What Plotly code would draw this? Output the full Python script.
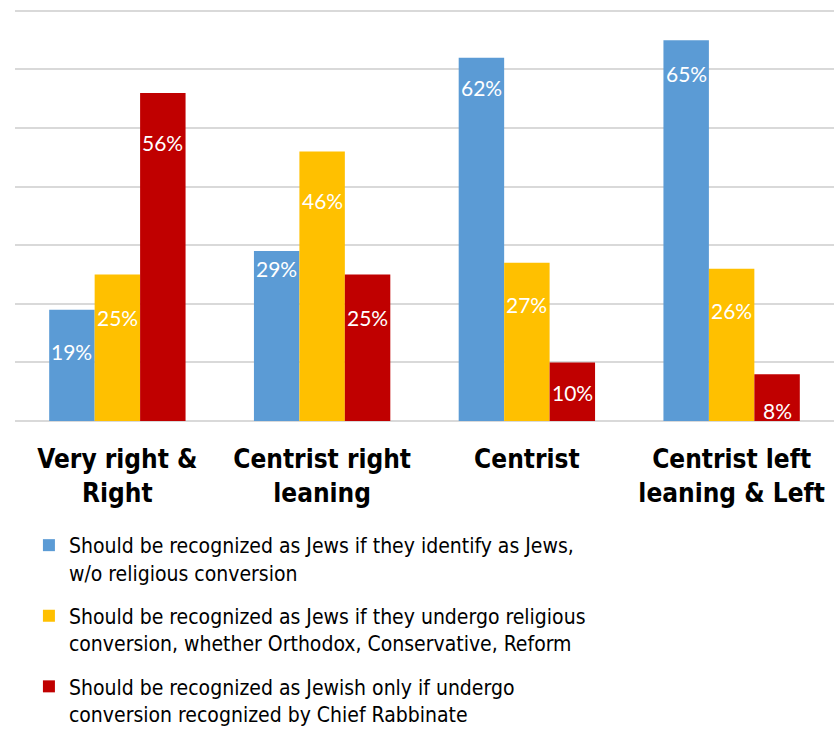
import plotly.graph_objects as go

# Survey results by political self-identification
categories = ["Very right &<br>Right", "Centrist right<br>leaning", "Centrist", "Centrist left<br>leaning & Left"]
series_names = [
    "Should be recognized as Jews if they identify as Jews,<br>w/o religious conversion",
    "Should be recognized as Jews if they undergo religious<br>conversion, whether Orthodox, Conservative, Reform",
    "Should be recognized as Jewish only if undergo<br>conversion recognized by Chief Rabbinate",
]
identify_only = [19, 29, 62, 65]
any_conversion = [25, 46, 27, 26]
rabbinate_only = [56, 25, 10, 8]

series_values = [identify_only, any_conversion, rabbinate_only]
colors = ["#5B9BD5", "#FFC000", "#C00000"]

# how far (px) each value label sits below the top of its bar
label_drop = [
    [42, 17, 30, 33],
    [43, 49, 42, 42],
    [50, 43, 30, 36],
]

bargap = 0.334
bar_w = (1 - bargap) / len(series_values)
x_idx = list(range(len(categories)))

LEGEND_FONT = "DejaVu Sans Condensed, DejaVu Sans"
LABEL_FONT = "Lato, Open Sans"

fig = go.Figure()
for k, (name, vals, col) in enumerate(zip(series_names, series_values, colors)):
    fig.add_trace(go.Bar(
        x=x_idx, y=vals, name=name, marker=dict(color=col, line=dict(width=0)),
        legendgroup=f"g{k}", hoverinfo="skip",
    ))
    for i, v in enumerate(vals):
        fig.add_annotation(
            x=i + (k - 1) * bar_w, y=v, xref="x", yref="y",
            text=f"{v}%", showarrow=False, yanchor="middle",
            yshift=-label_drop[k][i],
            font=dict(family=LABEL_FONT, size=21, color="white"),
        )

fig.update_layout(
    width=834, height=735,
    margin=dict(l=15, r=0, t=5, b=314),
    barmode="group", bargap=bargap, bargroupgap=0,
    plot_bgcolor="white", paper_bgcolor="white",
    showlegend=True,
    legend=dict(
        x=0.017, xanchor="left", y=-0.25, yanchor="top",
        font=dict(family=LEGEND_FONT, size=21, color="#000000"),
        traceorder="grouped", tracegroupgap=13, valign="top",
        bgcolor="rgba(0,0,0,0)",
    ),
    xaxis=dict(
        range=[-0.5, 3.5], tickvals=x_idx, ticktext=categories,
        showgrid=False, zeroline=False, showline=False, ticks="",
        ticklabelstandoff=20,
        tickfont=dict(family="DejaVu Sans Condensed, DejaVu Sans", size=26, color="#000000", weight="bold"),
    ),
    yaxis=dict(
        range=[0, 71], dtick=10, showticklabels=False,
        showgrid=True, gridcolor="#D9D9D9", gridwidth=1.5,
        zeroline=True, zerolinecolor="#D9D9D9", zerolinewidth=1.5,
    ),
)

fig.write_html("out.html")
